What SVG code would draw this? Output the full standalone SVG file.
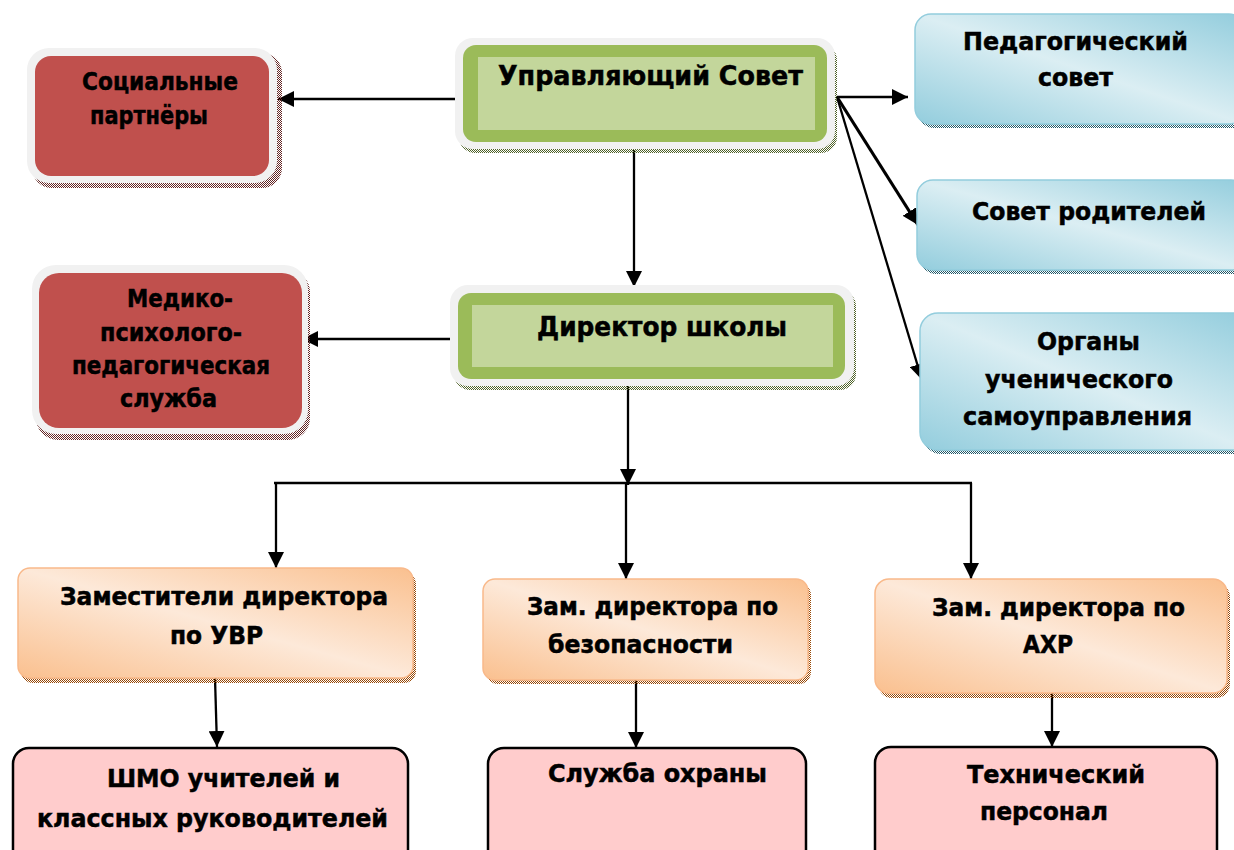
<svg xmlns="http://www.w3.org/2000/svg" width="1234" height="850" viewBox="0 0 1234 850">
<defs>
  <style>
    .t { font-family: "DejaVu Sans", Verdana, sans-serif; font-weight: bold; font-size: 24px; fill: #000; stroke: #000; stroke-width: 0.5; }
    .tg { font-size: 26px; }
    .frame { fill: #f1f1f1; }
    .red { fill: #c0504d; }
    .green { fill: #9bbb59; }
    .lgreen { fill: #c3d69b; }
    .blue { fill: url(#gBlue); stroke: #93cddd; stroke-width: 1.5; }
    .orange { fill: url(#gOrange); stroke: #f9b98a; stroke-width: 1.5; }
    .pink { fill: #ffcccc; stroke: #000; stroke-width: 2.5; }
    .line { stroke: #000; stroke-width: 2.3; fill: none; }
  </style>
  <pattern id="pRed" width="2" height="2" patternUnits="userSpaceOnUse"><rect width="1" height="1" fill="#632523"/><rect x="1" y="1" width="1" height="1" fill="#632523"/></pattern>
  <pattern id="pGreen" width="2" height="2" patternUnits="userSpaceOnUse"><rect width="1" height="1" fill="#4f6228"/><rect x="1" y="1" width="1" height="1" fill="#4f6228"/></pattern>
  <pattern id="pBlue" width="2" height="2" patternUnits="userSpaceOnUse"><rect width="1" height="1" fill="#215968"/><rect x="1" y="1" width="1" height="1" fill="#215968"/></pattern>
  <pattern id="pOrange" width="2" height="2" patternUnits="userSpaceOnUse"><rect width="1" height="1" fill="#974806"/><rect x="1" y="1" width="1" height="1" fill="#974806"/></pattern>
  <linearGradient id="gBlue" x1="0" y1="1" x2="1" y2="0">
    <stop offset="0" stop-color="#93cddd"/>
    <stop offset="0.5" stop-color="#dbeef3"/>
    <stop offset="1" stop-color="#93cddd"/>
  </linearGradient>
  <linearGradient id="gOrange" x1="0" y1="1" x2="1" y2="0">
    <stop offset="0" stop-color="#fac08f"/>
    <stop offset="0.5" stop-color="#fde9d9"/>
    <stop offset="1" stop-color="#fac08f"/>
  </linearGradient>
  <marker id="arr" viewBox="0 0 12 12" refX="12" refY="6" markerWidth="16" markerHeight="16" markerUnits="userSpaceOnUse" orient="auto">
    <path d="M0,0 L12,6 L0,12 Z" fill="#000"/>
  </marker>
</defs>

<rect width="1234" height="850" fill="#fff"/>

<g id="connectors">
  <line class="line" x1="463" y1="99" x2="278" y2="99" marker-end="url(#arr)"/>
  <line class="line" x1="634" y1="150" x2="634" y2="287" marker-end="url(#arr)"/>
  <line class="line" x1="458" y1="339" x2="302" y2="339" marker-end="url(#arr)"/>
  <line class="line" x1="837" y1="97" x2="908" y2="97" marker-end="url(#arr)"/>
  <line class="line" x1="837" y1="97" x2="918" y2="225" marker-end="url(#arr)" style="stroke-width:3.2"/>
  <line class="line" x1="837" y1="97" x2="922" y2="380" marker-end="url(#arr)"/>
  <line class="line" x1="628" y1="385" x2="628" y2="485" marker-end="url(#arr)"/>
  <line class="line" x1="274" y1="483" x2="972" y2="483" style="stroke-width:2.6"/>
  <line class="line" x1="276" y1="483" x2="276" y2="568" marker-end="url(#arr)"/>
  <line class="line" x1="626" y1="483" x2="626" y2="579" marker-end="url(#arr)"/>
  <line class="line" x1="971" y1="483" x2="971" y2="579" marker-end="url(#arr)"/>
  <line class="line" x1="215" y1="678" x2="217" y2="747" marker-end="url(#arr)"/>
  <line class="line" x1="636" y1="680" x2="636" y2="748" marker-end="url(#arr)"/>
  <line class="line" x1="1052" y1="693" x2="1052" y2="747" marker-end="url(#arr)"/>
</g>

<g id="upr-sovet">
  <rect x="459" y="44" width="378" height="109" rx="16" fill="url(#pGreen)"/>
  <rect class="frame" x="455" y="38" width="380" height="111" rx="18"/>
  <rect class="green" x="463" y="45" width="364" height="97" rx="13"/>
  <rect class="lgreen" x="478" y="57" width="337" height="73"/>
  <text class="t tg" x="498" y="85" textLength="305" lengthAdjust="spacingAndGlyphs">Управляющий Совет</text>
</g>

<g id="direktor">
  <rect x="454" y="290" width="402" height="100" rx="16" fill="url(#pGreen)"/>
  <rect class="frame" x="450" y="285" width="404" height="101" rx="18"/>
  <rect class="green" x="458" y="293" width="387" height="86" rx="13"/>
  <rect class="lgreen" x="472" y="305" width="361" height="62"/>
  <text class="t tg" x="537" y="336" textLength="250" lengthAdjust="spacingAndGlyphs">Директор школы</text>
</g>

<g id="soc-partnery">
  <rect x="32" y="53" width="250" height="135" rx="20" fill="url(#pRed)"/>
  <rect class="frame" x="27" y="48" width="250" height="135" rx="22"/>
  <rect class="red" x="35" y="56" width="234" height="120" rx="16"/>
  <text class="t" x="82" y="90" textLength="156" lengthAdjust="spacingAndGlyphs">Социальные</text>
  <text class="t" x="90" y="124" textLength="118" lengthAdjust="spacingAndGlyphs">партнёры</text>
</g>

<g id="medpsy">
  <rect x="36" y="270" width="274" height="170" rx="22" fill="url(#pRed)"/>
  <rect class="frame" x="32" y="265" width="276" height="169" rx="24"/>
  <rect class="red" x="39" y="273" width="263" height="155" rx="20"/>
  <text class="t" x="127" y="307" textLength="106" lengthAdjust="spacingAndGlyphs">Медико-</text>
  <text class="t" x="100" y="341" textLength="142" lengthAdjust="spacingAndGlyphs">психолого-</text>
  <text class="t" x="72" y="374" textLength="198" lengthAdjust="spacingAndGlyphs">педагогическая</text>
  <text class="t" x="120" y="407" textLength="97" lengthAdjust="spacingAndGlyphs">служба</text>
</g>

<g id="ped-sovet">
  <rect x="918" y="17" width="330" height="111" rx="16" fill="url(#pBlue)"/>
  <rect class="blue" x="915" y="14" width="330" height="110" rx="16"/>
  <text class="t" x="963" y="50" textLength="225" lengthAdjust="spacingAndGlyphs">Педагогический</text>
  <text class="t" x="1038" y="86" textLength="75" lengthAdjust="spacingAndGlyphs">совет</text>
</g>

<g id="sovet-rod">
  <rect x="920" y="183" width="330" height="91" rx="16" fill="url(#pBlue)"/>
  <rect class="blue" x="917" y="180" width="330" height="90" rx="16"/>
  <text class="t" x="972" y="220" textLength="234" lengthAdjust="spacingAndGlyphs">Совет родителей</text>
</g>

<g id="organy">
  <rect x="923" y="316" width="330" height="138" rx="18" fill="url(#pBlue)"/>
  <rect class="blue" x="920" y="313" width="330" height="137" rx="18"/>
  <text class="t" x="1037" y="350" textLength="103" lengthAdjust="spacingAndGlyphs">Органы</text>
  <text class="t" x="985" y="388" textLength="188" lengthAdjust="spacingAndGlyphs">ученического</text>
  <text class="t" x="963" y="425" textLength="229" lengthAdjust="spacingAndGlyphs">самоуправления</text>
</g>

<g id="zam-uvr">
  <rect x="21" y="572" width="395" height="111" rx="12" fill="url(#pOrange)"/>
  <rect class="orange" x="18" y="568" width="395" height="110" rx="12"/>
  <text class="t" x="60" y="605" textLength="328" lengthAdjust="spacingAndGlyphs">Заместители директора</text>
  <text class="t" x="170" y="644" textLength="93" lengthAdjust="spacingAndGlyphs">по УВР</text>
</g>

<g id="zam-bez">
  <rect x="486" y="583" width="325" height="101" rx="12" fill="url(#pOrange)"/>
  <rect class="orange" x="483" y="579" width="325" height="101" rx="12"/>
  <text class="t" x="527" y="615" textLength="251" lengthAdjust="spacingAndGlyphs">Зам. директора по</text>
  <text class="t" x="548" y="653" textLength="185" lengthAdjust="spacingAndGlyphs">безопасности</text>
</g>

<g id="zam-ahr">
  <rect x="878" y="583" width="352" height="115" rx="14" fill="url(#pOrange)"/>
  <rect class="orange" x="875" y="579" width="352" height="114" rx="14"/>
  <text class="t" x="932" y="616" textLength="253" lengthAdjust="spacingAndGlyphs">Зам. директора по</text>
  <text class="t" x="1023" y="653" textLength="50" lengthAdjust="spacingAndGlyphs">АХР</text>
</g>

<g id="shmo">
  <rect class="pink" x="13" y="748" width="395" height="120" rx="16"/>
  <text class="t" x="107" y="787" textLength="233" lengthAdjust="spacingAndGlyphs">ШМО учителей и</text>
  <text class="t" x="37" y="827" textLength="351" lengthAdjust="spacingAndGlyphs">классных руководителей</text>
</g>

<g id="ohrana">
  <rect class="pink" x="488" y="748" width="318" height="120" rx="16"/>
  <text class="t" x="548" y="782" textLength="219" lengthAdjust="spacingAndGlyphs">Служба охраны</text>
</g>

<g id="tech">
  <rect class="pink" x="875" y="747" width="342" height="120" rx="16"/>
  <text class="t" x="967" y="783" textLength="178" lengthAdjust="spacingAndGlyphs">Технический</text>
  <text class="t" x="980" y="820" textLength="128" lengthAdjust="spacingAndGlyphs">персонал</text>
</g>
</svg>
